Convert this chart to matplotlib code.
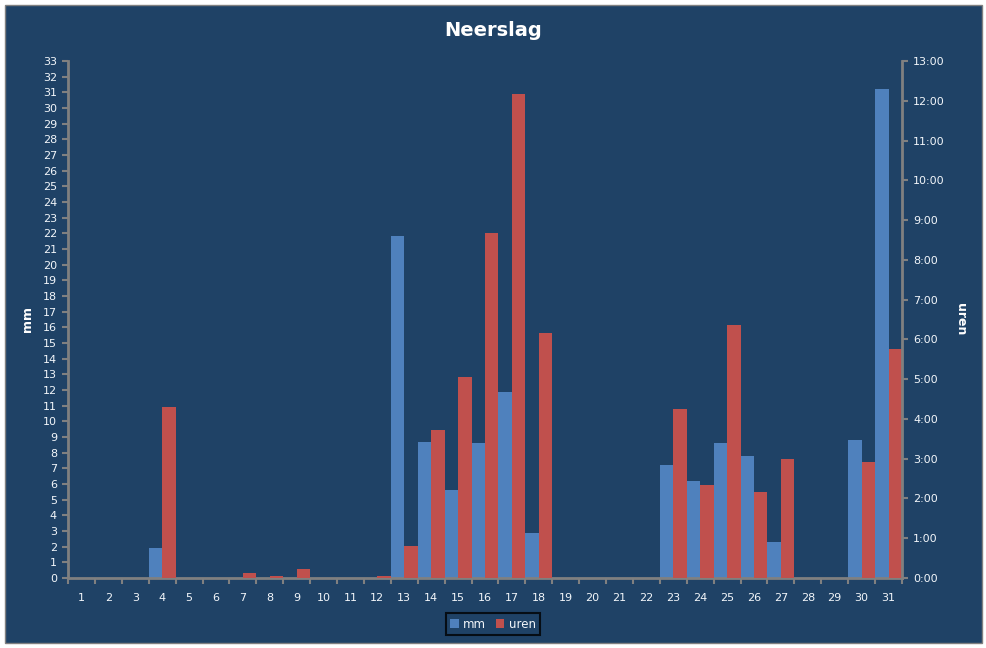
""" Neerslag per dag: mm en uren. """

import matplotlib.pyplot as plt
from matplotlib.patches import Rectangle
import numpy as np

days = list(range(1, 32))

# Neerslag in mm per dag.
mm = [0, 0, 0, 1.9, 0, 0, 0, 0, 0, 0, 0, 0, 21.8, 8.7, 5.6, 8.6, 11.9, 2.9,
      0, 0, 0, 0, 7.2, 6.2, 8.6, 7.8, 2.3, 0, 0, 8.8, 31.2]

# Neerslagduur in uren per dag.
uren = [0, 0, 0, 4.3, 0, 0, 0.13, 0.06, 0.23, 0, 0, 0.06, 0.8, 3.72, 5.05,
        8.67, 12.17, 6.16, 0, 0, 0, 0, 4.24, 2.33, 6.35, 2.15, 2.98, 0, 0,
        2.91, 5.75]

hour_ticks = list(range(0, 14))
hour_labels = [f'{h}:00' for h in hour_ticks]

bg = '#1F4266'
blue = '#4F81BD'
red = '#C0504D'
spine = '#808080'
txt = '#F2F6FA'

plt.rcParams['font.family'] = ['DejaVu Sans']

fig = plt.figure(figsize=(9.87, 6.48), dpi=100, facecolor='white')
fig.patches.append(Rectangle((5 / 987, 5 / 648), 977 / 987, 638 / 648,
                             transform=fig.transFigure, facecolor=bg,
                             edgecolor=spine, linewidth=1, zorder=-10))

ax = fig.add_axes([68 / 987, 70 / 648, 834 / 987, 517 / 648])
ax.set_facecolor(bg)
ax2 = ax.twinx()

x = np.array(days)
b1 = ax.bar(x - 0.25, mm, width=0.5, color=blue, label='mm')
b2 = ax2.bar(x + 0.25, uren, width=0.5, color=red, label='uren')

ax.set_xlim(0.5, 31.5)
ax.set_ylim(0, 33)
ax2.set_ylim(0, 13)

ax.set_yticks(range(0, 34))
ax2.set_yticks(hour_ticks)
ax2.set_yticklabels(hour_labels)

ax.set_xticks(days)
ax.set_xticks(np.arange(0.5, 32, 1), minor=True)
ax.tick_params(axis='x', which='major', length=0, pad=11)
ax.tick_params(axis='x', which='minor', length=4, width=1.5, color=spine,
               direction='out')

for a in (ax, ax2):
    for s in a.spines.values():
        s.set_visible(False)
    a.tick_params(labelsize=8, labelcolor=txt, colors=txt)
ax.spines['left'].set_visible(True)
ax.spines['bottom'].set_visible(True)
ax2.spines['right'].set_visible(True)
for s in (ax.spines['left'], ax.spines['bottom'], ax2.spines['right']):
    s.set_color(spine)
    s.set_linewidth(2)
ax.tick_params(axis='y', length=4, width=1.5, color=spine, pad=4)
ax2.tick_params(axis='y', length=4, width=1.5, color=spine, pad=4)
ax.tick_params(axis='x', which='both', color=spine, labelcolor=txt)

ax.set_ylabel('mm', color='white', fontsize=9, fontweight='bold', labelpad=6)
ax2.set_ylabel('uren', color='white', fontsize=9, fontweight='bold',
               rotation=-90, labelpad=16)

fig.text(0.5, 1 - 31 / 648, 'Neerslag', ha='center', va='center',
         color='white', fontsize=14, fontweight='bold')

leg = fig.legend(handles=[b1, b2], loc='center', bbox_to_anchor=(493 / 987, 24 / 648),
                 ncol=2, frameon=True, fontsize=8.5, handlelength=0.7,
                 handleheight=0.7, handletextpad=0.4, columnspacing=0.8,
                 borderpad=0.4, fancybox=False)
leg.get_frame().set_facecolor(bg)
leg.get_frame().set_edgecolor('black')
leg.get_frame().set_linewidth(1.5)
for t in leg.get_texts():
    t.set_color(txt)

fig.savefig('out.png', dpi=100, facecolor='white')
